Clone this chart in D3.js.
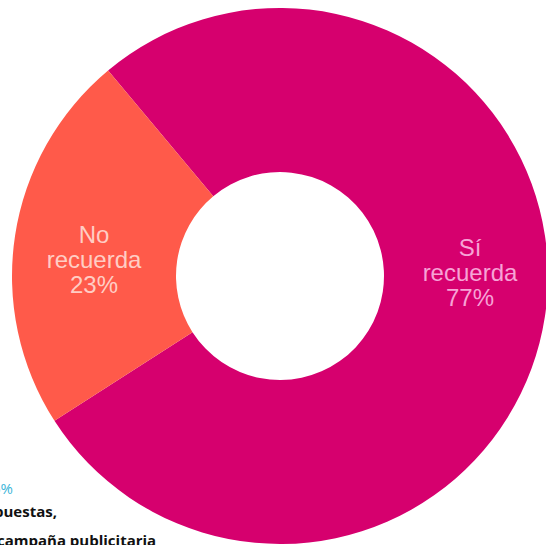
<!DOCTYPE html>
<html>
<head>
<meta charset="utf-8">
<script src="https://cdn.jsdelivr.net/npm/d3@7"></script>
<style>
  html, body { margin: 0; padding: 0; background: #fff; }
  svg { display: block; }
</style>
</head>
<body>
<div id="chart"></div>
<script>

// chart data
var labels = ["Sí recuerda", "No recuerda"];
var values = [77, 23];
var colors = ["#d6006e", "#ff5a4a"];
var textColors = ["#f7a3d6", "#ffcdc4"];

var W = 546, H = 545;
var cx = 280, cy = 276;
var outerR = 268, innerR = 104;

var svg = d3.select("#chart")
  .append("svg")
    .attr("width", W)
    .attr("height", H);

var pie = d3.pie()
  .sort(null)
  .value(function(d) { return d; })
  .startAngle(-39.9 * Math.PI / 180)
  .endAngle((360 - 39.9) * Math.PI / 180);

var arc = d3.arc()
  .innerRadius(innerR)
  .outerRadius(outerR);

var g = svg.append("g")
  .attr("transform", "translate(" + cx + "," + cy + ")");

var arcs = pie(values);

g.selectAll("path.slice")
  .data(arcs)
  .enter()
  .append("path")
    .attr("class", "slice")
    .attr("fill", function(d, i) { return colors[i]; })
    .attr("d", arc);

// labels, 3 lines each
var labelPos = [[190, 0], [-186, -13]];   // offsets from centre
var labelLines = [["Sí", "recuerda", values[0] + "%"], ["No", "recuerda", values[1] + "%"]];

labelLines.forEach(function(lines, i) {
  var t = g.append("text")
    .attr("x", labelPos[i][0])
    .attr("y", labelPos[i][1])
    .attr("text-anchor", "middle")
    .style("font-family", "'Liberation Sans', Arial, sans-serif")
    .style("font-weight", 300)
    .style("font-size", "24px")
    .attr("fill", textColors[i]);
  lines.forEach(function(s, k) {
    t.append("tspan")
      .attr("x", labelPos[i][0])
      .attr("y", labelPos[i][1] + (k - 1) * 25 + 5)
      .text(s);
  });
});

// cut-off note text from the source page (bottom left)
svg.append("text")
  .attr("x", 13).attr("y", 494)
  .attr("text-anchor", "end")
  .style("font-family", "'Open Sans', sans-serif")
  .style("font-size", "15px")
  .attr("fill", "#3bb4d8")
  .text("36%");

svg.append("text")
  .attr("x", 57).attr("y", 517)
  .attr("text-anchor", "end")
  .style("font-family", "'Open Sans', sans-serif")
  .style("font-weight", 700)
  .style("font-size", "15px")
  .attr("fill", "#111")
  .text("respuestas,");

svg.append("text")
  .attr("x", -3).attr("y", 546)
  .style("font-family", "'Open Sans', sans-serif")
  .style("font-weight", 700)
  .style("font-size", "15px")
  .attr("fill", "#111")
  .text("campaña publicitaria");

</script>
</body>
</html>
